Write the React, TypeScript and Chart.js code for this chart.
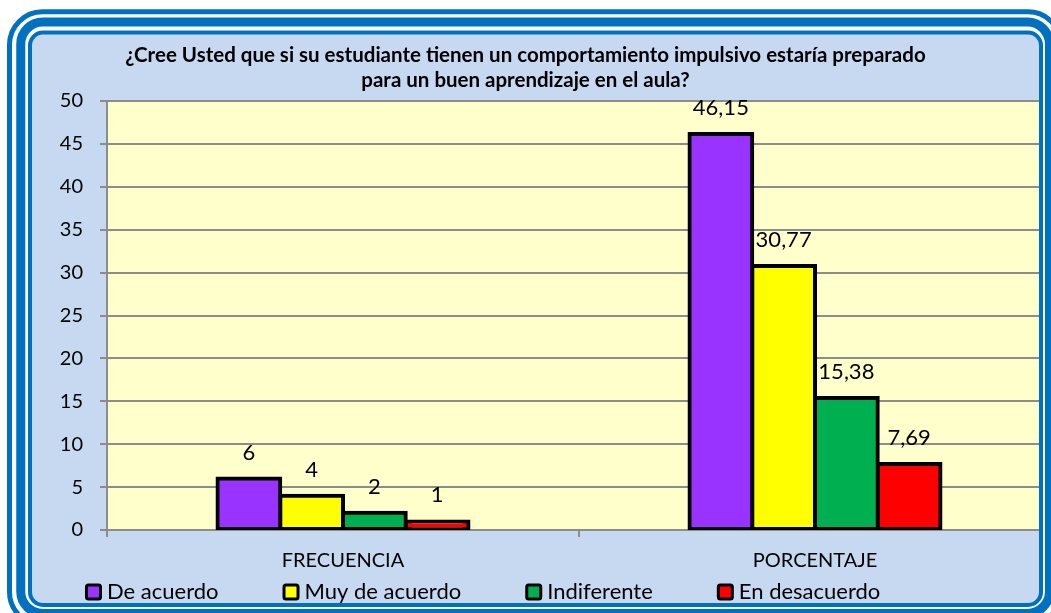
import React, { useEffect, useRef } from 'react';
import { Chart, registerables } from 'chart.js';

Chart.register(...registerables);

// ---------- data ----------
const categories = ['FRECUENCIA', 'PORCENTAJE'];
const seriesNames = ['De acuerdo', 'Muy de acuerdo', 'Indiferente', 'En desacuerdo'];
const deAcuerdo = [6, 46.15];
const muyDeAcuerdo = [4, 30.77];
const indiferente = [2, 15.38];
const enDesacuerdo = [1, 7.69];
const seriesColors = ['#9933ff', '#ffff00', '#00b050', '#ff0000'];
const yTicks = [0, 5, 10, 15, 20, 25, 30, 35, 40, 45, 50];
const titleLines = [
  '¿Cree Usted que si su estudiante tienen un comportamiento impulsivo estaría preparado',
  'para un buen aprendizaje en el aula?',
];

const W = 1051;
const H = 613;
const FONT = 'Lato, "Open Sans", sans-serif';
const TEXT = '#000000';
const GRID = '#8c8c8c';
const FRAME = '#0070c0';
const BG = '#c6d9f1';
const PLOT = '#ffffcc';

const fmt = (v: number) => (Number.isInteger(v) ? String(v) : v.toFixed(2).replace('.', ','));

function rrPath(ctx: CanvasRenderingContext2D, x0: number, y0: number, x1: number, y1: number, r: number) {
  ctx.moveTo(x0 + r, y0);
  ctx.lineTo(x1 - r, y0);
  ctx.arcTo(x1, y0, x1, y0 + r, r);
  ctx.lineTo(x1, y1 - r);
  ctx.arcTo(x1, y1, x1 - r, y1, r);
  ctx.lineTo(x0 + r, y1);
  ctx.arcTo(x0, y1, x0, y1 - r, r);
  ctx.lineTo(x0, y0 + r);
  ctx.arcTo(x0, y0, x0 + r, y0, r);
  ctx.closePath();
}

const INNER = [30, 32.5, 1041, 605, 13] as const;

const framePlugin = {
  id: 'frameDeco',
  beforeDraw(chart: any) {
    const ctx: CanvasRenderingContext2D = chart.ctx;
    ctx.save();
    ctx.fillStyle = '#ffffff';
    ctx.fillRect(0, 0, W, H);
    ctx.beginPath();
    rrPath(ctx, INNER[0], INNER[1], INNER[2], INNER[3], INNER[4]);
    ctx.fillStyle = BG;
    ctx.fill();
    ctx.clip();
    const a = chart.chartArea;
    ctx.fillStyle = PLOT;
    ctx.fillRect(a.left, a.top, a.right - a.left, a.bottom - a.top);
    ctx.restore();
  },
  afterDatasetsDraw(chart: any) {
    const ctx: CanvasRenderingContext2D = chart.ctx;
    ctx.save();
    ctx.fillStyle = TEXT;
    ctx.font = `22px ${FONT}`;
    ctx.textAlign = 'center';
    ctx.textBaseline = 'alphabetic';
    chart.data.datasets.forEach((ds: any, i: number) => {
      const meta = chart.getDatasetMeta(i);
      meta.data.forEach((bar: any, j: number) => {
        ctx.fillText(fmt(ds.data[j]), bar.x, bar.y - 19);
      });
    });
    ctx.restore();
  },
  afterDraw(chart: any) {
    const ctx: CanvasRenderingContext2D = chart.ctx;
    ctx.save();
    // white outside the frame
    ctx.beginPath();
    ctx.rect(0, 0, W, H);
    rrPath(ctx, INNER[0], INNER[1], INNER[2], INNER[3], INNER[4]);
    ctx.fillStyle = '#ffffff';
    ctx.fill('evenodd');
    // frame lines
    ctx.strokeStyle = FRAME;
    ctx.lineWidth = 4;
    ctx.beginPath();
    rrPath(ctx, INNER[0], INNER[1], INNER[2], INNER[3], INNER[4]);
    ctx.stroke();
    ctx.lineWidth = 9;
    ctx.beginPath();
    rrPath(ctx, 20.75, 22, 1049.5, 613.5, 22);
    ctx.stroke();
    ctx.lineWidth = 5;
    ctx.beginPath();
    rrPath(ctx, 9.5, 11.75, 1061, 625, 33);
    ctx.stroke();

    // legend
    ctx.font = `22px ${FONT}`;
    ctx.textBaseline = 'middle';
    ctx.textAlign = 'left';
    let x = 85;
    const yMid = 592;
    seriesNames.forEach((name, i) => {
      ctx.beginPath();
      rrPath(ctx, x + 1.5, yMid - 7, x + 15.5, yMid + 7, 2);
      ctx.fillStyle = seriesColors[i];
      ctx.fill();
      ctx.lineWidth = 3;
      ctx.strokeStyle = '#000000';
      ctx.stroke();
      ctx.fillStyle = TEXT;
      ctx.fillText(name, x + 22, yMid);
      x += 22 + ctx.measureText(name).width + 64;
    });
    ctx.restore();
  },
};

export default function App() {
  const ref = useRef<HTMLCanvasElement>(null);
  useEffect(() => {
    if (!ref.current) return;
    const seriesValues = [deAcuerdo, muyDeAcuerdo, indiferente, enDesacuerdo];
    const chart = new Chart(ref.current, {
      type: 'bar',
      data: {
        labels: categories,
        datasets: seriesNames.map((name, i) => ({
          label: name,
          data: seriesValues[i],
          backgroundColor: seriesColors[i],
          borderColor: '#000000',
          borderWidth: 4,
          borderSkipped: false,
          inflateAmount: 2,
          categoryPercentage: 0.5318,
          barPercentage: 1,
        })),
      },
      options: {
        responsive: false,
        animation: false,
        devicePixelRatio: 1,
        layout: { padding: { top: 34, left: 0, right: 0, bottom: 38 } },
        plugins: {
          legend: { display: false },
          tooltip: { enabled: false },
          title: {
            display: true,
            text: titleLines,
            color: TEXT,
            font: { family: FONT, size: 20.5, weight: 'bold', lineHeight: 25 / 20.5 },
            padding: { top: 8.5, bottom: 8.5 },
          },
        },
        scales: {
          x: {
            grid: { display: true, drawOnChartArea: false, color: GRID, lineWidth: 2, tickLength: 7, offset: true },
            border: { color: GRID, width: 2 },
            ticks: { color: TEXT, font: { family: FONT, size: 20 }, padding: 12 },
            afterFit: (s: any) => {
              s.height = 45;
            },
          },
          y: {
            min: 0,
            max: 50,
            afterBuildTicks: (s: any) => {
              s.ticks = yTicks.map((v) => ({ value: v }));
            },
            grid: { color: GRID, lineWidth: 2, tickLength: 7 },
            border: { color: GRID, width: 2 },
            ticks: { color: TEXT, font: { family: FONT, size: 20 }, padding: 17 },
            afterFit: (s: any) => {
              s.width = 107;
            },
          },
        },
      },
      plugins: [framePlugin],
    } as any);
    return () => chart.destroy();
  }, []);
  return (
    <div style={{ position: 'absolute', left: 0, top: 0, width: W, height: H }}>
      <canvas ref={ref} width={W} height={H} style={{ display: 'block' }} />
    </div>
  );
}
